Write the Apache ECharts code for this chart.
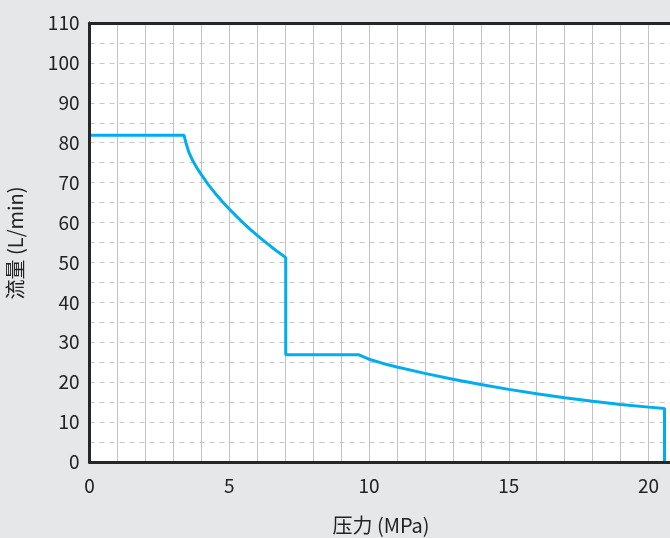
<!DOCTYPE html>
<html>
<head>
<meta charset="utf-8">
<script src="https://cdn.jsdelivr.net/npm/echarts@6/dist/echarts.min.js"></script>
<style>
html,body{margin:0;padding:0;background:#e6e7e9;}
#c{width:670px;height:538px;}
</style>
</head>
<body>
<div id="c"></div>
<script>
const pressure = [0, 3.38, 3.45, 3.55, 3.70, 3.85, 4.00, 4.25, 4.50, 4.75, 5.00, 5.25, 5.50, 5.75, 6.00, 6.25, 6.50, 6.75, 7.02, 7.02, 9.62, 10, 10.5, 11, 12, 13, 14, 15, 16, 17, 18, 19, 20, 20.57, 20.57];
const flow =     [81.9, 81.9, 80, 77.7, 75.4, 73.6, 72.0, 69.5, 67.3, 65.3, 63.4, 61.6, 59.9, 58.3, 56.8, 55.35, 53.95, 52.6, 51.2, 26.9, 26.9, 25.75, 24.7, 23.8, 22.2, 20.75, 19.4, 18.2, 17.1, 16.1, 15.2, 14.4, 13.75, 13.4, 0];
const xName = '压力 (MPa)';
const yName = '流量 (L/min)';

const font = '"Noto Sans CJK SC", "Noto Sans", sans-serif';
const frameLine = {show: true, lineStyle: {color: '#262626', width: 3}};
const hiddenAxisBits = {axisTick: {show: false}, axisLabel: {show: false}, splitLine: {show: false}};
const chart = echarts.init(document.getElementById('c'), null, {renderer: 'canvas'});
chart.setOption({
  backgroundColor: '#e6e7e9',
  animation: false,
  grid: {
    left: 89.5, top: 23, width: 587, height: 439,
    outerBoundsMode: 'none', containLabel: false,
    show: true, backgroundColor: '#ffffff', borderWidth: 0
  },
  xAxis: [{
    type: 'value', min: 0, max: 21, interval: 1, z: 1,
    axisLine: {show: false}, axisTick: {show: false},
    axisLabel: {
      margin: 14, fontSize: 19, color: '#222', fontFamily: font,
      formatter: v => (v % 5 === 0 ? String(v) : '')
    },
    splitLine: {show: true, lineStyle: {color: '#c2c2c2', width: 1, type: 'solid'}}
  }, Object.assign({type: 'value', min: 0, max: 21, position: 'bottom', z: 5, axisLine: frameLine}, hiddenAxisBits),
     Object.assign({type: 'value', min: 0, max: 21, position: 'top', z: 5, axisLine: frameLine}, hiddenAxisBits)],
  yAxis: [{
    type: 'value', min: 0, max: 110, interval: 5, z: 1,
    axisLine: {show: false}, axisTick: {show: false},
    axisLabel: {
      margin: 10, fontSize: 19, color: '#222', fontFamily: font,
      formatter: v => (v % 10 === 0 ? String(v) : '')
    },
    splitLine: {show: true, lineStyle: {color: '#c6c6c6', width: 1, type: [5, 5]}}
  }, Object.assign({type: 'value', min: 0, max: 110, position: 'left', z: 5, axisLine: frameLine}, hiddenAxisBits)],
  graphic: [
    {type: 'text', x: 381, y: 515,
     style: {text: xName, fontSize: 20, fill: '#222', fontFamily: font, align: 'center', verticalAlign: 'top'}},
    {type: 'text', x: 5, y: 243, rotation: Math.PI / 2,
     style: {text: yName, fontSize: 20, fill: '#222', fontFamily: font, align: 'center', verticalAlign: 'top'}}
  ],
  series: [{
    type: 'line', xAxisIndex: 0, yAxisIndex: 0,
    data: pressure.map((p, i) => [p, flow[i]]),
    showSymbol: false, symbol: 'none',
    lineStyle: {color: '#00aeef', width: 3},
    z: 3
  }]
});
</script>
</body>
</html>
